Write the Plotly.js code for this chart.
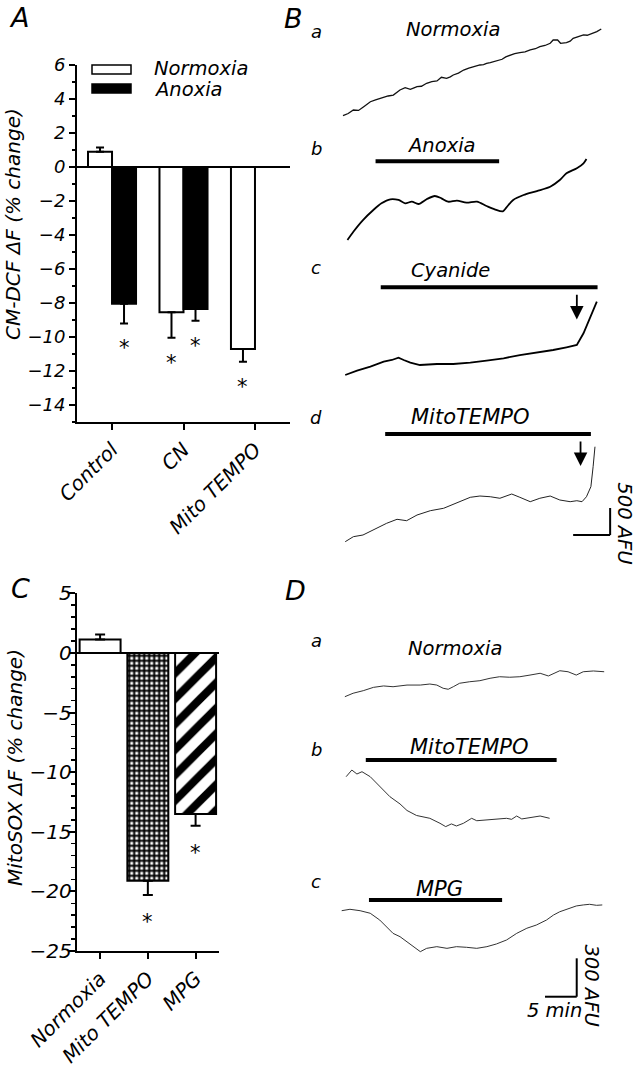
<!DOCTYPE html>
<html><head><meta charset="utf-8">
<script src="https://cdn.plot.ly/plotly-3.0.1.min.js"></script>
<style>html,body{margin:0;padding:0;background:#fff}</style>
</head><body><div id="chart" style="width:639px;height:1067px"></div>
<script>
// ---------------- Panel A : CM-DCF ΔF (% change) ----------------
const catsA = ['Control', 'CN', 'Mito TEMPO'];
const normoxiaA = [0.9, -8.55, -10.7];
const normoxiaErrA = [0.25, 1.5, 0.75];
const anoxiaA = [-8.05, -8.35, null];
const anoxiaErrA = [1.15, 0.7, null];
const starNormoxiaA = [null, -11.2, -12.6];
const starAnoxiaA = [-10.3, -10.2, null];

// ---------------- Panel C : MitoSOX ΔF (% change) ----------------
const catsC = ['Normoxia', 'Mito TEMPO', 'MPG'];
const valsC = [1.12, -19.1, -13.5];
const errC = [0.42, 1.2, 1.0];
const starC = [null, -22.1, -16.3];

// ---------------- Panel B traces (time in min, ΔF in AFU) ----------------
const tBa = [0,0.7,1.4,2.1,2.8,3.3,3.7,4.4,5.0,5.5,6.1,6.8,7.3,7.7,8.4,9.1,9.6,10.0,10.6,11.3,12.0,12.7,13.3,14.0,14.5,14.9,15.6,16.3,17.0,17.6,18.1,18.5,19.0,19.4,19.9,20.3,20.9,21.5,22.0,22.6,23.2,23.9,24.6,25.3,26.0,26.6,27.3,28.0,28.4,29.0,29.4,30.2,30.7,31.1,31.8,32.5,33.0,33.4,33.9,34.3,34.9];
const vBa = [0,40,106,98,167,215,259,291,322,341,365,383,430,476,519,489,515,537,545,600,630,643,711,693,720,754,790,846,880,907,925,939,945,970,985,1000,1020,1045,1090,1124,1150,1167,1180,1217,1240,1278,1300,1341,1402,1402,1341,1352,1380,1433,1465,1495,1490,1507,1530,1556,1606];
const tBb = [0.6,1.4,2.7,4.1,5.2,6.4,7.5,8.4,9.3,10.2,11.3,12.4,13.3,14.2,15.4,16.7,18.1,19.4,20.5,21.6,22.1,23.0,24.4,26.2,28.0,29.3,30.2,31.6,32.5,32.9];
const vBb = [0,154,370,556,680,754,741,680,709,667,754,815,772,709,728,691,709,630,569,532,606,741,833,907,987,1111,1235,1328,1420,1500];
const tBc = [0.3,1.9,3.7,5.5,6.6,7.5,8.2,9.1,10.4,12.7,14.9,17.2,19.4,21.7,23.9,26.2,28.4,30.2,31.6,32.5,33.4,34.3];
const vBc = [0,80,154,246,278,320,278,228,185,204,204,228,265,309,370,413,463,513,556,772,1050,1357];
const tBd = [0.3,1.4,2.7,4.1,5.9,7.3,8.6,10.0,11.8,13.6,15.4,17.2,18.5,19.9,21.2,22.8,23.9,25.3,26.6,28.0,29.3,30.7,31.6,32.3,32.9,33.5,33.8,34.05];
const vBd = [0,93,124,217,341,415,389,494,574,619,722,822,846,833,804,883,822,741,804,846,772,741,759,741,833,1019,1389,1759];
const labelsB = ['Normoxia', 'Anoxia', 'Cyanide', 'MitoTEMPO'];
const treatStartB = [null, 4.4, 5.1, 5.7];
const treatEndB = [null, 21.1, 34.4, 33.5];
const arrowTimeB = [null, null, 31.6, 32.1];

// ---------------- Panel D traces (time in min, ΔF in AFU) ----------------
const tDa = [0.5,1.8,3.4,5.0,6.6,8.1,10.3,12.4,13.9,15.0,16.0,16.8,17.6,18.6,20.2,21.8,23.4,24.9,26.5,28.1,29.7,31.3,32.6,33.4,34.4,35.7,37.0,38.1,39.7,41.4];
const vDa = [0,27,47,73,84,78,91,91,99,91,66,58,78,105,117,125,144,156,152,156,169,183,162,183,203,195,169,195,201,195];
const tDb = [0.7,1.6,2.4,3.2,4.5,6.0,7.6,9.2,10.3,11.8,13.9,15.5,16.4,17.3,18.1,19.2,20.5,21.3,22.9,25.0,26.0,26.8,27.6,28.4,30.2,31.3,32.8];
const vDb = [0,52,21,39,0,-78,-156,-213,-264,-303,-325,-364,-390,-369,-385,-364,-325,-344,-338,-333,-325,-333,-307,-330,-312,-307,-325];
const tDc = [0,1.3,2.9,4.5,6.0,7.1,8.1,9.2,10.3,11.3,12.4,13.4,15.0,16.6,18.1,19.7,21.3,22.9,24.4,26.0,27.6,29.2,30.7,32.3,33.4,34.4,36.0,37.0,38.1,39.1,40.2,41.1];
const vDc = [0,11,0,-20,-73,-125,-177,-203,-242,-281,-320,-294,-281,-294,-281,-286,-294,-281,-260,-229,-177,-137,-112,-73,-34,-8,19,37,45,50,42,45];
const labelsD = ['Normoxia', 'MitoTEMPO', 'MPG'];
const treatStartD = [null, 3.8, 4.3];
const treatEndD = [null, 33.9, 25.3];

// scale bars
const scaleB = {afu: 500, min: 5};
const scaleD = {afu: 300, min: 5};

// ---------------- layout helpers ----------------
const W = 639, H = 1067;
const FONT = 'DejaVu Sans, Liberation Sans, Arial, sans-serif';
const fx = x => x / W;
const fy = y => 1 - y / H;
const f = (size) => ({family: FONT, size: size, color: 'black', style: 'italic'});

function rowAxis(topPx, botPx, zeroPx, pxPerUnit, anchor) {
  return {domain: [fy(botPx), fy(topPx)],
          range: [(zeroPx - botPx) / pxPerUnit, (zeroPx - topPx) / pxPerUnit],
          visible: false, fixedrange: true, anchor: anchor, showgrid: false, zeroline: false};
}
const PPA_B = 0.054, PPM_B = 7.4, X0_B = 343;
const PPA_D = 0.128, PPM_D = 6.34, X0_D = 341.7;

const plus = (v, e) => v.map((d, i) => (d !== null && d > 0) ? e[i] : 0);
const minus = (v, e) => v.map((d, i) => (d !== null && d < 0) ? e[i] : 0);

const barW_A = 0.336;
const traces = [];
traces.push({type: 'bar', x: catsA, y: normoxiaA, xaxis: 'x', yaxis: 'y',
  width: barW_A, offset: -barW_A,
  marker: {color: 'white', line: {color: 'black', width: 2}},
  error_y: {type: 'data', symmetric: false, array: plus(normoxiaA, normoxiaErrA), arrayminus: minus(normoxiaA, normoxiaErrA), color: 'black', thickness: 2, width: 4}});
traces.push({type: 'bar', x: catsA, y: anoxiaA, xaxis: 'x', yaxis: 'y',
  width: barW_A, offset: 0,
  marker: {color: 'black', line: {color: 'black', width: 2}},
  error_y: {type: 'data', symmetric: false, array: plus(anoxiaA, anoxiaErrA), arrayminus: minus(anoxiaA, anoxiaErrA), color: 'black', thickness: 2, width: 4}});
traces.push({type: 'bar', x: catsC, y: valsC, xaxis: 'x2', yaxis: 'y2', width: 0.858,
  marker: {color: 'white', line: {color: 'black', width: 2},
    pattern: {shape: ['', '+', '/'], fgcolor: 'black', bgcolor: 'white', size: [8, 5, 18], solidity: [0.3, 0.65, 0.45]}},
  error_y: {type: 'data', symmetric: false, array: plus(valsC, errC), arrayminus: minus(valsC, errC), color: 'black', thickness: 2, width: 5}});

const lineTr = (x, y, xa, ya, w, c, shape) => ({type: 'scatter', mode: 'lines', x: x, y: y, xaxis: xa, yaxis: ya,
  line: {color: c, width: w, shape: shape || 'linear', smoothing: 0.8}, hoverinfo: 'skip'});
traces.push(lineTr(tBa, vBa, 'x3', 'y3', 1.3, '#111'));
traces.push(lineTr(tBb, vBb, 'x3', 'y4', 1.8, '#000', 'spline'));
traces.push(lineTr(tBc, vBc, 'x3', 'y5', 1.8, '#000'));
traces.push(lineTr(tBd, vBd, 'x3', 'y6', 1.0, '#222'));
traces.push(lineTr(tDa, vDa, 'x4', 'y7', 1.0, '#333'));
traces.push(lineTr(tDb, vDb, 'x4', 'y8', 1.0, '#333'));
traces.push(lineTr(tDc, vDc, 'x4', 'y9', 1.0, '#333'));

// ---------------- annotations & shapes ----------------
const ann = [];
const shapes = [];
const paperText = (x, y, text, size, angle) => ann.push({xref: 'paper', yref: 'paper', x: fx(x), y: fy(y), text: text,
  showarrow: false, font: f(size), textangle: angle || 0, xanchor: 'center', yanchor: 'middle'});

// panel letters
paperText(19, 18, 'A', 27); paperText(293, 19, 'B', 27);
paperText(20, 588, 'C', 27); paperText(295, 590, 'D', 27);
// row letters
[['a', 31], ['b', 148], ['c', 267], ['d', 417]].forEach(r => paperText(316, r[1], r[0], 18));
[['a', 640], ['b', 749], ['c', 881]].forEach(r => paperText(316, r[1], r[0], 18));
// y-axis titles
paperText(13, 224, 'CM-DCF ΔF (% change)', 20, -90);
paperText(15, 768, 'MitoSOX ΔF (% change)', 20, -90);

// legend of A
shapes.push({type: 'rect', xref: 'paper', yref: 'paper', x0: fx(92), x1: fx(131), y0: fy(74), y1: fy(65), line: {color: 'black', width: 1.5}, fillcolor: 'white'});
shapes.push({type: 'rect', xref: 'paper', yref: 'paper', x0: fx(92), x1: fx(131), y0: fy(93), y1: fy(84), line: {color: 'black', width: 1.5}, fillcolor: 'black'});
ann.push({xref: 'paper', yref: 'paper', x: fx(152), y: fy(69), xanchor: 'left', yanchor: 'middle', text: 'Normoxia', showarrow: false, font: f(19.5)});
ann.push({xref: 'paper', yref: 'paper', x: fx(152), y: fy(89), xanchor: 'left', yanchor: 'middle', text: 'Anoxia', showarrow: false, font: f(19.5)});

// asterisks
const star = (xref, yref, x, y) => ann.push({xref: xref, yref: yref, x: x, y: y, text: '*', showarrow: false, font: f(21), yshift: -6});
starNormoxiaA.forEach((s, i) => { if (s !== null) star('x', 'y', i - barW_A / 2, s); });
starAnoxiaA.forEach((s, i) => { if (s !== null) star('x', 'y', i + barW_A / 2, s); });
starC.forEach((s, i) => { if (s !== null) star('x2', 'y2', i, s); });

// Panel B rows
const yB = ['y3', 'y4', 'y5', 'y6'];
const labelPosB = [[14.9, 1590], [13.3, 1746], [14.5, 1932], [17.2, 2315]];
const barLevelB = [null, 1458, 1624, 1995];
const labelSizeB = [19.5, 19.5, 19.5, 21];
labelsB.forEach((lab, i) => {
  ann.push({xref: 'x3', yref: yB[i], x: labelPosB[i][0], y: labelPosB[i][1], text: lab, showarrow: false, font: f(labelSizeB[i])});
  if (treatStartB[i] !== null) shapes.push({type: 'line', xref: 'x3', yref: yB[i], x0: treatStartB[i], x1: treatEndB[i], y0: barLevelB[i], y1: barLevelB[i], line: {color: 'black', width: 4}});
});
const arrowSpanB = [null, null, [1513, 1030], [1883, 1400]];
arrowTimeB.forEach((t, i) => {
  if (t === null) return;
  ann.push({xref: 'x3', yref: yB[i], axref: 'x3', ayref: yB[i], x: t, y: arrowSpanB[i][1], ax: t, ay: arrowSpanB[i][0], text: '', showarrow: true, arrowhead: 2, arrowsize: 1.5, arrowwidth: 1.8, arrowcolor: 'black'});
});
// scale bar B (row d)
const cornerB = [36.1, 124];
shapes.push({type: 'line', xref: 'x3', yref: 'y6', x0: cornerB[0] - scaleB.min, x1: cornerB[0], y0: cornerB[1], y1: cornerB[1], line: {color: 'black', width: 2}});
shapes.push({type: 'line', xref: 'x3', yref: 'y6', x0: cornerB[0], x1: cornerB[0], y0: cornerB[1], y1: cornerB[1] + scaleB.afu, line: {color: 'black', width: 2}});
ann.push({xref: 'x3', yref: 'y6', x: 38.1, y: 341, text: scaleB.afu + ' AFU', textangle: 90, showarrow: false, font: f(19.5)});

// Panel D rows
const yD = ['y7', 'y8', 'y9'];
const labelPosD = [[17.9, 378], [20.0, 234], [15.5, 167]];
const barLevelD = [null, 130, 84];
const labelSizeD = [19.5, 21, 21];
labelsD.forEach((lab, i) => {
  ann.push({xref: 'x4', yref: yD[i], x: labelPosD[i][0], y: labelPosD[i][1], text: lab, showarrow: false, font: f(labelSizeD[i])});
  if (treatStartD[i] !== null) shapes.push({type: 'line', xref: 'x4', yref: yD[i], x0: treatStartD[i], x1: treatEndD[i], y0: barLevelD[i], y1: barLevelD[i], line: {color: 'black', width: 4}});
});
const cornerD = [37.07, -672];
shapes.push({type: 'line', xref: 'x4', yref: 'y9', x0: cornerD[0] - scaleD.min, x1: cornerD[0], y0: cornerD[1], y1: cornerD[1], line: {color: 'black', width: 2}});
shapes.push({type: 'line', xref: 'x4', yref: 'y9', x0: cornerD[0], x1: cornerD[0], y0: cornerD[1], y1: cornerD[1] + scaleD.afu, line: {color: 'black', width: 2}});
ann.push({xref: 'x4', yref: 'y9', x: 33.6, y: -776, text: scaleD.min + ' min', showarrow: false, font: f(19.5)});
ann.push({xref: 'x4', yref: 'y9', x: 39.4, y: -580, text: scaleD.afu + ' AFU', textangle: 90, showarrow: false, font: f(19.5)});

// ---------------- axes ----------------
const baseX = (dom, anchor, size) => ({domain: dom, anchor: anchor, type: 'category', range: [-0.49, 2.49],
  showline: true, linecolor: 'black', linewidth: 2, ticks: 'outside', ticklen: 6, tickwidth: 2, tickcolor: 'black',
  tickangle: -45, tickfont: f(size), showgrid: false, zeroline: false, fixedrange: true});
const layout = {
  width: W, height: H, margin: {l: 0, r: 0, t: 0, b: 0}, paper_bgcolor: 'white', plot_bgcolor: 'rgba(0,0,0,0)',
  showlegend: false, barmode: 'overlay', font: f(17),
  xaxis: baseX([fx(77), fx(290)], 'y', 20),
  yaxis: {domain: [fy(422), fy(65)], anchor: 'x', range: [-15, 6], tickmode: 'linear', tick0: 0, dtick: 2,
    showline: true, linecolor: 'black', linewidth: 2, ticks: 'outside', ticklen: 6, tickwidth: 2, tickcolor: 'black',
    minor: {dtick: 1, tick0: 0, ticks: 'outside', ticklen: 3, tickwidth: 1.5, tickcolor: 'black'},
    tickfont: f(18), showgrid: false, zeroline: true, zerolinecolor: 'black', zerolinewidth: 2, fixedrange: true},
  xaxis2: baseX([fx(76.7), fx(219)], 'y2', 20),
  yaxis2: {domain: [fy(951), fy(593.3)], anchor: 'x2', range: [-25, 5], tickmode: 'linear', tick0: 0, dtick: 5,
    showline: true, linecolor: 'black', linewidth: 2, ticks: 'outside', ticklen: 6, tickwidth: 2, tickcolor: 'black',
    minor: {dtick: 1, tick0: 0, ticks: 'outside', ticklen: 3.5, tickwidth: 1.5, tickcolor: 'black'},
    ticklabelstandoff: -7,
    tickfont: f(20), showgrid: false, zeroline: true, zerolinecolor: 'black', zerolinewidth: 2, fixedrange: true},
  xaxis3: {domain: [fx(320), 1], range: [(320 - X0_B) / PPM_B, (639 - X0_B) / PPM_B], visible: false, anchor: 'y3', fixedrange: true},
  yaxis3: rowAxis(0, 130, 115.7, PPA_B, 'x3'),
  yaxis4: rowAxis(130, 250, 240, PPA_B, 'x3'),
  yaxis5: rowAxis(250, 390, 375, PPA_B, 'x3'),
  yaxis6: rowAxis(390, 560, 541.7, PPA_B, 'x3'),
  xaxis4: {domain: [fx(320), 1], range: [(320 - X0_D) / PPM_D, (639 - X0_D) / PPM_D], visible: false, anchor: 'y7', fixedrange: true},
  yaxis7: rowAxis(600, 720, 696.7, PPA_D, 'x4'),
  yaxis8: rowAxis(720, 860, 776.7, PPA_D, 'x4'),
  yaxis9: rowAxis(860, 1067, 910.7, PPA_D, 'x4'),
  annotations: ann, shapes: shapes
};
Plotly.newPlot('chart', traces, layout, {staticPlot: true, displayModeBar: false});
</script></body></html>
